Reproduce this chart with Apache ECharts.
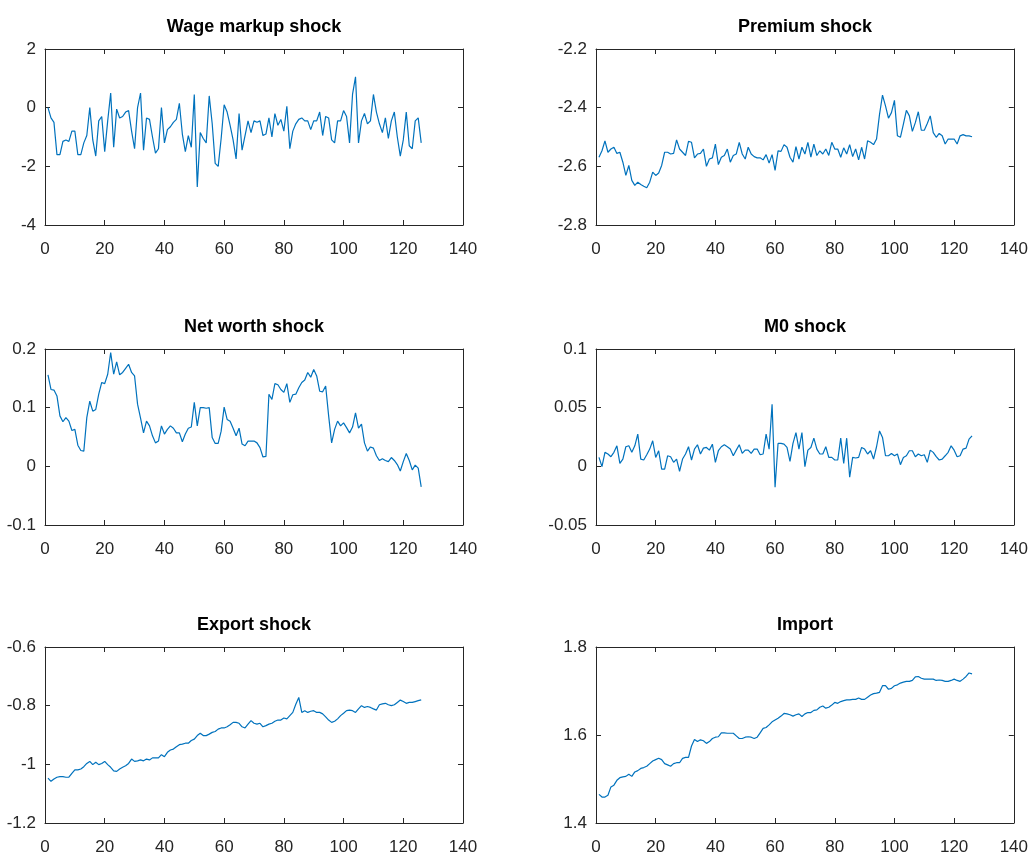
<!DOCTYPE html>
<html>
<head>
<meta charset="utf-8">
<script src="https://cdn.jsdelivr.net/npm/echarts/dist/echarts.min.js"></script>
<style>
html,body{margin:0;padding:0;background:#fff;}
#chart{width:1031px;height:858px;}
</style>
</head>
<body>
<div id="chart"></div>
<script>
// ---------- DATA ----------
const panelTitles = ["Wage markup shock", "Premium shock", "Net worth shock", "M0 shock", "Export shock", "Import"];

const wageMarkup = [0, -0.35, -0.5, -1.6, -1.6, -1.15, -1.1, -1.15, -0.8, -0.8,
 -1.6, -1.6, -1.2, -0.95, 0, -1.1, -1.65, -0.45, -0.3, -1.5,
 -0.45, 0.5, -1.35, -0.05, -0.35, -0.3, -0.15, -0.1, -0.8, -1.4,
 0, 0.5, -1.45, -0.35, -0.4, -1.0, -1.55, -1.4, 0, -1.2,
 -0.75, -0.65, -0.5, -0.4, 0.15, -0.9, -1.5, -0.95, -1.35, 0.45,
 -2.7, -0.85, -1.05, -1.2, 0.4, -0.55, -1.9, -2.0, -1.05, 0.1,
 -0.15, -0.6, -1.1, -1.75, -0.2, -1.45, -0.95, -0.45, -0.85, -0.45,
 -0.5, -0.45, -0.95, -0.9, -0.35, -1.0, -0.2, -0.6, -0.4, -0.8,
 0.05, -1.4, -0.8, -0.55, -0.4, -0.35, -0.45, -0.45, -0.75, -0.45,
 -0.45, -0.15, -0.95, -0.3, -0.35, -1.1, -1.2, -0.45, -0.45, -0.1,
 -0.3, -1.2, 0.45, 1.05, -1.2, -0.45, -0.2, -0.55, -0.45, 0.45,
 -0.15, -0.55, -0.85, -0.35, -1.05, -0.45, -0.15, -1.0, -1.65, -1.1,
 -0.15, -1.3, -1.4, -0.45, -0.35, -1.2];

const premium = [-2.569, -2.547, -2.513, -2.552, -2.541, -2.535, -2.556, -2.552, -2.586, -2.631,
 -2.597, -2.648, -2.665, -2.654, -2.662, -2.668, -2.673, -2.654, -2.62, -2.631,
 -2.623, -2.597, -2.552, -2.552, -2.558, -2.556, -2.51, -2.541, -2.552, -2.563,
 -2.515, -2.518, -2.571, -2.558, -2.556, -2.541, -2.6, -2.575, -2.571, -2.524,
 -2.594, -2.569, -2.563, -2.541, -2.586, -2.563, -2.558, -2.518, -2.558, -2.575,
 -2.535, -2.558, -2.567, -2.571, -2.571, -2.578, -2.56, -2.589, -2.56, -2.614,
 -2.547, -2.549, -2.526, -2.535, -2.569, -2.586, -2.533, -2.575, -2.535, -2.558,
 -2.518, -2.569, -2.524, -2.563, -2.547, -2.558, -2.541, -2.563, -2.518, -2.541,
 -2.541, -2.569, -2.537, -2.558, -2.526, -2.567, -2.541, -2.578, -2.535, -2.575,
 -2.513, -2.518, -2.526, -2.507, -2.423, -2.357, -2.394, -2.436, -2.417, -2.375,
 -2.496, -2.501, -2.456, -2.409, -2.428, -2.481, -2.451, -2.414, -2.477, -2.477,
 -2.454, -2.428, -2.485, -2.501, -2.488, -2.496, -2.524, -2.507, -2.507, -2.507,
 -2.524, -2.496, -2.492, -2.496, -2.496, -2.499];

const netWorth = [0.156, 0.131, 0.130, 0.120, 0.086, 0.076, 0.083, 0.077, 0.061, 0.063,
 0.036, 0.027, 0.026, 0.083, 0.111, 0.094, 0.097, 0.123, 0.143, 0.141,
 0.157, 0.194, 0.157, 0.178, 0.156, 0.160, 0.167, 0.174, 0.160, 0.154,
 0.106, 0.082, 0.057, 0.077, 0.069, 0.052, 0.040, 0.043, 0.069, 0.055,
 0.063, 0.069, 0.065, 0.057, 0.057, 0.042, 0.055, 0.065, 0.067, 0.109,
 0.069, 0.100, 0.100, 0.099, 0.100, 0.049, 0.039, 0.039, 0.060, 0.101,
 0.080, 0.077, 0.065, 0.052, 0.065, 0.038, 0.035, 0.043, 0.043, 0.043,
 0.040, 0.032, 0.016, 0.017, 0.123, 0.114, 0.141, 0.139, 0.131, 0.126,
 0.141, 0.109, 0.122, 0.123, 0.134, 0.143, 0.147, 0.160, 0.152, 0.165,
 0.154, 0.128, 0.127, 0.137, 0.086, 0.040, 0.063, 0.077, 0.069, 0.074,
 0.066, 0.057, 0.067, 0.091, 0.065, 0.072, 0.040, 0.026, 0.033, 0.031,
 0.018, 0.010, 0.013, 0.010, 0.008, 0.015, 0.010, 0.003, -0.008, 0.008,
 0.022, 0.010, -0.006, 0.002, -0.003, -0.035];

const m0 = [0.0076, -0.0003, 0.0119, 0.0105, 0.0082, 0.0119, 0.0175, 0.0025, 0.0062, 0.0167,
 0.0175, 0.0119, 0.0175, 0.0274, 0.0062, 0.0054, 0.0099, 0.0147, 0.0218, 0.0076,
 0.0133, -0.0023, -0.0023, 0.0090, 0.0082, 0.0034, 0.0062, -0.0042, 0.0062, 0.0105,
 0.0167, 0.0054, 0.0147, 0.0184, 0.0105, 0.0155, 0.0161, 0.0138, 0.0189, 0.0034,
 0.0133, 0.0167, 0.0184, 0.0167, 0.0147, 0.0090, 0.0138, 0.0184, 0.0110, 0.0138,
 0.0138, 0.0110, 0.0147, 0.0147, 0.0099, 0.0105, 0.0274, 0.0147, 0.0528, -0.0178,
 0.0195, 0.0195, 0.0189, 0.0161, 0.0042, 0.0195, 0.0288, 0.0147, 0.0288, -0.0003,
 0.0138, 0.0161, 0.0240, 0.0147, 0.0105, 0.0105, 0.0167, 0.0076, 0.0076, 0.0054,
 0.0054, 0.0240, 0.0025, 0.0240, -0.0093, 0.0076, 0.0071, 0.0076, 0.0161, 0.0147,
 0.0105, 0.0133, 0.0062, 0.0167, 0.0302, 0.0246, 0.0090, 0.0090, 0.0110, 0.0090,
 0.0105, 0.0014, 0.0076, 0.0090, 0.0133, 0.0133, 0.0082, 0.0105, 0.0090, 0.0099,
 0.0034, 0.0138, 0.0119, 0.0082, 0.0054, 0.0062, 0.0090, 0.0119, 0.0175, 0.0138,
 0.0082, 0.0090, 0.0147, 0.0155, 0.0232, 0.0260];

const exportShock = [-1.047, -1.058, -1.050, -1.044, -1.042, -1.042, -1.044, -1.044, -1.031, -1.019,
 -1.019, -1.016, -1.008, -0.997, -0.990, -1.001, -0.993, -1.001, -0.997, -0.990,
 -1.001, -1.010, -1.022, -1.024, -1.016, -1.010, -1.005, -0.997, -0.982, -0.990,
 -0.988, -0.985, -0.988, -0.982, -0.985, -0.978, -0.978, -0.978, -0.967, -0.974,
 -0.959, -0.951, -0.948, -0.940, -0.933, -0.931, -0.928, -0.928, -0.919, -0.914,
 -0.902, -0.894, -0.902, -0.902, -0.897, -0.891, -0.888, -0.880, -0.876, -0.876,
 -0.872, -0.865, -0.857, -0.857, -0.860, -0.872, -0.876, -0.863, -0.851, -0.860,
 -0.863, -0.860, -0.872, -0.868, -0.863, -0.860, -0.853, -0.849, -0.849, -0.842,
 -0.845, -0.834, -0.823, -0.795, -0.772, -0.823, -0.817, -0.823, -0.819, -0.817,
 -0.823, -0.823, -0.828, -0.838, -0.849, -0.857, -0.853, -0.845, -0.834, -0.826,
 -0.817, -0.815, -0.817, -0.823, -0.811, -0.800, -0.806, -0.803, -0.806, -0.811,
 -0.815, -0.797, -0.794, -0.792, -0.797, -0.800, -0.797, -0.789, -0.781, -0.786,
 -0.792, -0.789, -0.789, -0.786, -0.783, -0.780];

const importShock = [1.465, 1.459, 1.459, 1.463, 1.482, 1.486, 1.497, 1.503, 1.505, 1.506,
 1.511, 1.506, 1.516, 1.519, 1.524, 1.526, 1.529, 1.535, 1.541, 1.544,
 1.547, 1.544, 1.535, 1.532, 1.529, 1.535, 1.537, 1.537, 1.547, 1.549,
 1.549, 1.575, 1.590, 1.585, 1.589, 1.587, 1.581, 1.585, 1.592, 1.595,
 1.596, 1.605, 1.605, 1.604, 1.604, 1.604, 1.598, 1.592, 1.592, 1.595,
 1.596, 1.595, 1.592, 1.595, 1.605, 1.615, 1.617, 1.623, 1.630, 1.634,
 1.638, 1.643, 1.649, 1.648, 1.646, 1.643, 1.646, 1.648, 1.642, 1.648,
 1.651, 1.651, 1.656, 1.657, 1.663, 1.666, 1.661, 1.663, 1.668, 1.674,
 1.672, 1.676, 1.678, 1.680, 1.680, 1.681, 1.681, 1.684, 1.681, 1.681,
 1.686, 1.691, 1.694, 1.695, 1.697, 1.712, 1.712, 1.704, 1.706, 1.712,
 1.714, 1.718, 1.720, 1.722, 1.722, 1.724, 1.732, 1.733, 1.729, 1.727,
 1.727, 1.727, 1.727, 1.724, 1.725, 1.724, 1.722, 1.722, 1.724, 1.727,
 1.724, 1.722, 1.727, 1.733, 1.741, 1.739];

const xMin = 0, xMax = 140, xStep = 20;
const yMins  = [-4, -2.8, -0.1, -0.05, -1.2, 1.4];
const yMaxs  = [2, -2.2, 0.2, 0.1, -0.6, 1.8];
const ySteps = [2, 0.2, 0.1, 0.05, 0.2, 0.2];

// ---------- CHART ----------
const allSeries = [wageMarkup, premium, netWorth, m0, exportShock, importShock];
const colLeft = [45, 596];
const rowTop = [49, 349, 647];
const gW = 418, gH = 176;
const axisColor = '#262626';
const fontFam = '"Liberation Sans", Arial, Helvetica, sans-serif';
const fmt = v => String(parseFloat(Number(v).toFixed(4)));

const grids = [], xAxes = [], yAxes = [], series = [], titles = [];
allSeries.forEach((vals, i) => {
  const col = i % 2, row = Math.floor(i / 2);
  grids.push({left: colLeft[col], top: rowTop[row], width: gW, height: gH, containLabel: false});
  const tick = {show: true, inside: true, length: 5, lineStyle: {color: axisColor, width: 1}};
  const line = {show: true, onZero: false, lineStyle: {color: axisColor, width: 1}};
  const lbl = {show: true, fontFamily: fontFam, fontSize: 17, color: axisColor, formatter: fmt};
  xAxes.push({gridIndex: i, type: 'value', position: 'bottom', min: xMin, max: xMax, interval: xStep,
    axisLine: line, axisTick: tick, splitLine: {show: false}, axisLabel: Object.assign({}, lbl, {margin: 16})});
  xAxes.push({gridIndex: i, type: 'value', position: 'top', min: xMin, max: xMax, interval: xStep,
    axisLine: line, axisTick: tick, splitLine: {show: false}, axisLabel: {show: false}});
  yAxes.push({gridIndex: i, type: 'value', position: 'left', min: yMins[i], max: yMaxs[i], interval: ySteps[i],
    axisLine: line, axisTick: tick, splitLine: {show: false}, axisLabel: Object.assign({}, lbl, {margin: 9})});
  yAxes.push({gridIndex: i, type: 'value', position: 'right', min: yMins[i], max: yMaxs[i], interval: ySteps[i],
    axisLine: line, axisTick: tick, splitLine: {show: false}, axisLabel: {show: false}});
  series.push({type: 'line', xAxisIndex: 2 * i, yAxisIndex: 2 * i,
    data: vals.map((v, k) => [k + 1, v]), showSymbol: false, symbol: 'none',
    lineStyle: {color: '#0072BD', width: 1.2}, silent: true});
  titles.push({text: panelTitles[i], left: colLeft[col] + gW / 2, top: rowTop[row] - 33, textAlign: 'center',
    padding: 0,
    textStyle: {fontFamily: fontFam, fontSize: 18, fontWeight: 'bold', color: '#000', lineHeight: 22}});
});

const chart = echarts.init(document.getElementById('chart'), null, {renderer: 'canvas'});
chart.setOption({
  animation: false,
  backgroundColor: '#fff',
  title: titles,
  grid: grids,
  xAxis: xAxes,
  yAxis: yAxes,
  series: series
});
</script>
</body>
</html>
